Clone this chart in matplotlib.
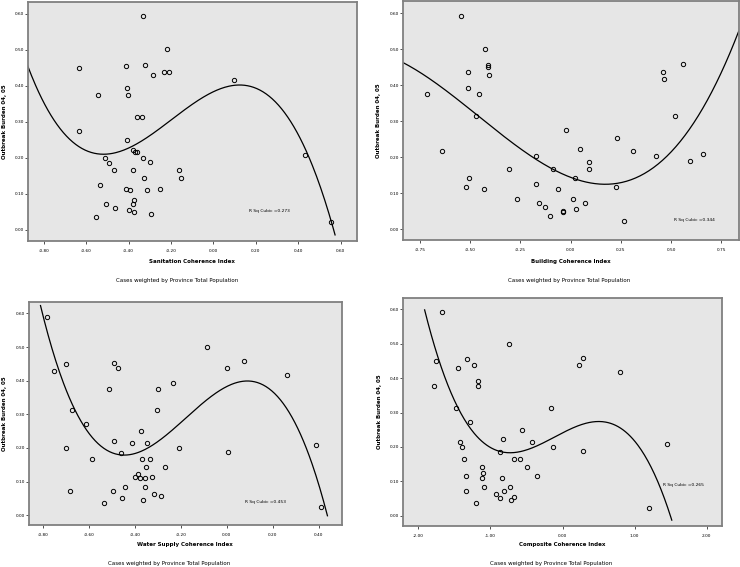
"""Four SPSS-style scatter plots with cubic fit lines."""

import matplotlib
matplotlib.use("Agg")
import matplotlib.pyplot as plt
import numpy as np
from matplotlib.ticker import FuncFormatter

# ── Data ────────────────────────────────────────────────────────
san_x = [-0.330, -0.220, -0.322, -0.412, -0.632, -0.233, -0.209, -0.285, 0.099, -0.409,
         -0.542, -0.401, -0.358, -0.338, -0.634, -0.407, -0.381, -0.369, -0.358, -0.509,
         -0.332, -0.491, -0.299, 0.434, -0.470, -0.381, -0.164, -0.325, -0.153, -0.533,
         -0.412, -0.393, -0.314, -0.253, -0.374, -0.379, -0.506, -0.464, -0.398, -0.376,
         -0.296, -0.555, 0.555]
san_y = [0.593, 0.502, 0.459, 0.456, 0.451, 0.438, 0.438, 0.429, 0.417, 0.393,
         0.375, 0.375, 0.313, 0.313, 0.275, 0.251, 0.223, 0.216, 0.216, 0.201,
         0.201, 0.185, 0.188, 0.208, 0.167, 0.167, 0.167, 0.143, 0.143, 0.126,
         0.115, 0.111, 0.111, 0.115, 0.083, 0.071, 0.071, 0.062, 0.055, 0.050,
         0.045, 0.035, 0.023]

bld_x = [-0.548, -0.424, -0.411, -0.414, -0.510, -0.409, -0.512, -0.717, -0.457, -0.469,
         -0.025, 0.230, 0.048, -0.642, 0.308, -0.175, 0.424, 0.089, 0.659, 0.594,
         -0.306, -0.089, 0.089, -0.507, 0.022, -0.172, -0.522, -0.430, -0.063, 0.224,
         -0.268, 0.010, -0.156, 0.070, -0.129, 0.025, -0.038, -0.038, -0.104, 0.263,
         0.460, 0.465, 0.560, 0.520]
bld_y = [0.593, 0.501, 0.456, 0.451, 0.438, 0.429, 0.393, 0.376, 0.376, 0.314,
         0.275, 0.252, 0.224, 0.216, 0.216, 0.202, 0.202, 0.186, 0.210, 0.189,
         0.167, 0.167, 0.167, 0.143, 0.143, 0.126, 0.116, 0.112, 0.112, 0.116,
         0.084, 0.084, 0.072, 0.072, 0.063, 0.056, 0.051, 0.047, 0.036, 0.023,
         0.438, 0.418, 0.459, 0.314]

wat_x = [-0.783, -0.697, -0.751, -0.490, -0.472, -0.086, -0.001, 0.075, 0.262, -0.235,
         -0.514, -0.300, -0.672, -0.303, -0.612, -0.371, -0.490, -0.413, -0.348, -0.697,
         -0.206, 0.387, 0.004, -0.461, -0.586, -0.368, -0.335, -0.352, -0.268, -0.388,
         -0.397, -0.378, -0.357, -0.325, -0.441, -0.357, -0.681, -0.493, -0.316, -0.284,
         -0.455, -0.365, -0.535, 0.409]
wat_y = [0.589, 0.450, 0.428, 0.454, 0.437, 0.500, 0.437, 0.458, 0.417, 0.393,
         0.375, 0.375, 0.313, 0.313, 0.272, 0.251, 0.222, 0.214, 0.214, 0.200,
         0.200, 0.208, 0.188, 0.185, 0.166, 0.166, 0.166, 0.143, 0.143, 0.124,
         0.115, 0.112, 0.112, 0.115, 0.084, 0.084, 0.071, 0.071, 0.063, 0.056,
         0.050, 0.045, 0.036, 0.023]

comp_x = [-1.667, -0.747, -1.326, -1.751, -1.452, -1.223, -1.167, -1.176, -1.783, -1.485,
          -0.159, -1.279, -0.556, -0.826, -0.420, -1.429, -1.391, -0.131, -0.868, -1.373,
          -0.668, -0.593, -1.111, -0.490, -1.106, -1.340, -1.111, -0.840, -0.359, -1.092,
          -0.733, -1.345, -0.808, -0.920, -0.668, -0.873, -0.710, -1.204, 0.289, 0.233,
          0.803, 0.280, 1.457, 1.204]
comp_y = [0.591, 0.500, 0.455, 0.450, 0.429, 0.438, 0.392, 0.376, 0.376, 0.313,
          0.313, 0.273, 0.250, 0.222, 0.215, 0.215, 0.200, 0.200, 0.185, 0.166,
          0.166, 0.166, 0.143, 0.143, 0.124, 0.116, 0.111, 0.111, 0.116, 0.083,
          0.083, 0.071, 0.071, 0.062, 0.055, 0.050, 0.046, 0.036, 0.459, 0.438,
          0.417, 0.188, 0.209, 0.023]

# points (first/last = where the line ends)
san_fit_x = [-0.877, -0.511, -0.252, 0.126, 0.574]
san_fit_y = [0.458, 0.211, 0.281, 0.403, -0.014]
bld_fit_x = [-0.833, -0.469, -0.175, 0.170, 0.520, 0.836]
bld_fit_y = [0.462, 0.320, 0.195, 0.122, 0.230, 0.549]
wat_fit_x = [-0.810, -0.449, -0.200, 0.084, 0.438]
wat_fit_y = [0.623, 0.181, 0.272, 0.401, -0.002]
comp_fit_x = [-1.914, -1.475, -0.728, 0.500, 1.326, 1.517]
comp_fit_y = [0.600, 0.321, 0.185, 0.274, 0.095, -0.011]

x_labels = ["Sanitation Coherence Index", "Building Coherence Index",
            "Water Supply Coherence Index", "Composite Coherence Index"]
r_sq = ["0.273", "0.344", "0.453", "0.265"]
x_ticks = [np.arange(-0.8, 0.61, 0.2), np.arange(-0.75, 0.76, 0.25),
           np.arange(-0.8, 0.41, 0.2), np.arange(-2, 2.1, 1)]
y_ticks = np.arange(0, 0.61, 0.1)

# ── Layout (figure pixels: left, bottom, right, top) ───────────
W, H = 740, 567
boxes = [(28, 240.7, 356.7, 1.7), (403.3, 240, 738.5, 1),
         (29, 525.3, 341.7, 302), (403.3, 526, 721.7, 297.7)]
x_lims = [(-0.874, 0.676), (-0.833, 0.835), (-0.860, 0.500), (-2.21, 2.21)]
r_pos = [(0.170, 0.053), (0.512, 0.025), (0.080, 0.038), (1.40, 0.089)]
ylab_off = [23.3, 25, 24.3, 23.3]
xlab_off = [21, 21.7, 19.4, 18.7]
caption_xy = [(176.7, 280.7), (569.3, 280.7), (169.3, 563), (551, 563)]

series = [(san_x, san_y, san_fit_x, san_fit_y),
          (bld_x, bld_y, bld_fit_x, bld_fit_y),
          (wat_x, wat_y, wat_fit_x, wat_fit_y),
          (comp_x, comp_y, comp_fit_x, comp_fit_y)]

plt.rcParams["font.family"] = ["DejaVu Sans"]
fig = plt.figure(figsize=(W / 100, H / 100), dpi=100)
fmt = FuncFormatter(lambda v, _: f"{round(v, 2) + 0:.2f}")

for i, (px, py, fx, fy) in enumerate(series):
    l, b, r, t = boxes[i]
    ax = fig.add_axes([l / W, 1 - b / H, (r - l) / W, (b - t) / H])
    ax.set_facecolor("#e6e6e6")
    for sp in ax.spines.values():
        sp.set_color("#808080")
        sp.set_linewidth(1.3)

    # cubic fit through the line readings
    coef = np.polyfit(fx, fy, 3)
    xs = np.linspace(fx[0], fx[-1], 300)
    ax.plot(xs, np.polyval(coef, xs), color="black", lw=0.9, zorder=2)
    ax.plot(px, py, "o", ms=3.1, mfc="none", mec="black", mew=0.7, zorder=3)

    ax.set_xlim(*x_lims[i])
    ax.set_ylim(-0.030, 0.634)
    ax.set_xticks(x_ticks[i])
    ax.set_yticks(y_ticks)
    ax.xaxis.set_major_formatter(fmt)
    ax.yaxis.set_major_formatter(fmt)
    ax.tick_params(axis="x", length=2.3, width=0.6, pad=3.4, labelsize=3.1, color="#333333")
    ax.tick_params(axis="y", length=2.3, width=0.6, pad=0.8, labelsize=3.1, color="#333333")

    ax.set_xlabel(x_labels[i], fontsize=4, fontweight="bold", va="center")
    ax.xaxis.set_label_coords(0.5, -xlab_off[i] / (b - t))
    ax.set_ylabel("Outbreak Burden 04, 05", fontsize=4, fontweight="bold", va="center")
    ax.yaxis.set_label_coords(-ylab_off[i] / (r - l), 0.5)

    ax.text(r_pos[i][0], r_pos[i][1], f"R Sq Cubic ={r_sq[i]}",
            fontsize=3.2, ha="left", va="center")

    cx, cy = caption_xy[i]
    fig.text(cx / W, 1 - cy / H, "Cases weighted by Province Total Population",
             fontsize=4, ha="center", va="center")

fig.savefig("out.png", dpi=100)
